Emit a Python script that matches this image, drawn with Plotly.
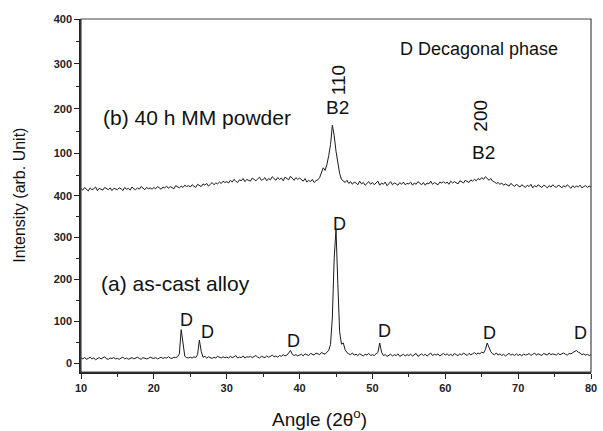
import numpy as np
import plotly.graph_objects as go

# 2-theta grid (degrees), 0.25 deg step from 10 to 80
angle = np.round(np.arange(10, 80.001, 0.25), 2)

# (a) as-cast alloy intensity
as_cast = [
    12,10,13,9,11,14,10,12,8,11,13,10,12,15,10,9,12,11,13,10,
    11,9,12,14,10,12,9,11,13,10,12,14,11,9,13,12,10,11,14,12,
    11,13,10,12,14,11,13,12,15,12,11,14,13,15,22,80,40,16,13,12,
    14,12,15,13,20,55,28,14,16,12,15,13,11,14,12,16,13,12,15,13,
    14,12,16,13,15,18,12,14,13,17,12,15,14,16,13,15,18,14,12,16,
    15,13,17,14,16,19,15,17,14,18,16,20,17,19,24,30,21,18,20,17,
    19,21,17,22,20,18,23,21,19,24,22,20,25,23,21,26,30,45,110,250,
    320,190,75,45,48,32,25,22,20,24,19,21,18,22,20,17,21,19,23,18,
    20,18,22,25,48,26,18,20,16,19,21,17,20,18,22,16,19,21,17,20,
    18,21,17,20,23,16,19,22,18,21,17,20,24,18,21,19,22,17,20,23,
    19,22,18,21,17,23,20,18,22,19,24,21,18,23,20,22,25,21,24,22,
    26,24,32,48,36,27,22,20,24,19,22,18,21,17,20,23,19,21,18,22,
    18,21,17,22,19,20,23,18,21,24,19,22,20,18,23,21,19,24,20,22,
    21,19,23,20,22,24,21,19,23,22,25,27,30,26,24,20,22,19,21,18,
    20,
]

# (b) 40 h MM powder intensity
mm_powder = [
    22,18,24,20,16,23,19,21,25,17,22,20,18,24,21,19,23,17,22,20,
    19,23,21,17,24,20,22,18,25,21,19,23,20,26,22,19,24,21,23,20,
    24,21,26,22,20,25,23,27,22,26,24,21,28,25,23,27,24,29,26,28,
    25,30,27,24,31,28,26,32,29,33,27,31,35,30,34,32,36,33,38,35,
    37,34,40,36,42,38,35,41,39,44,37,42,40,38,45,41,39,43,47,40,
    42,46,39,44,41,48,43,40,46,42,45,39,47,43,41,49,44,40,46,42,
    45,41,38,44,36,40,37,42,35,39,41,46,55,68,62,75,95,120,163,140,
    105,82,55,42,38,35,40,33,37,31,36,34,30,38,32,35,29,34,37,31,
    35,30,33,38,29,34,31,36,28,33,37,30,34,32,29,35,31,36,30,33,
    32,36,29,34,31,37,33,30,35,29,34,32,38,31,35,33,30,36,34,37,
    33,36,31,38,34,37,35,32,39,36,34,40,37,35,41,38,42,39,44,41,
    46,42,48,43,40,44,38,36,33,35,31,34,29,32,30,27,33,29,26,31,
    28,25,30,27,24,29,26,31,23,28,25,30,26,24,29,27,23,28,25,30,
    26,24,29,27,23,28,25,30,26,22,28,24,27,25,29,23,26,28,24,27,
    25,
]

# Peak labels
d_peaks_x = [24.5, 27.3, 39.2, 45.5, 51.6, 66.1, 78.5]
d_peaks_y = [102, 74, 52, 333, 76, 71, 71]

x_ticks = [10, 20, 30, 40, 50, 60, 70, 80]
y_ticks_bottom = [0, 100, 200, 300, 400]
y_ticks_top = [100, 200, 300, 400]

FONT = "Arial, Liberation Sans, sans-serif"
LINE = "#1a1a1a"

fig = go.Figure()
fig.add_trace(go.Scatter(x=angle, y=as_cast, mode="lines", xaxis="x", yaxis="y",
                         line=dict(color=LINE, width=1), showlegend=False))
fig.add_trace(go.Scatter(x=angle, y=mm_powder, mode="lines", xaxis="x2", yaxis="y2",
                         line=dict(color=LINE, width=1), showlegend=False))

tickfont = dict(family=FONT, size=11, color="#222", weight="bold")

fig.update_layout(
    width=603, height=431,
    margin=dict(l=81, r=6, t=19, b=59),
    paper_bgcolor="white", plot_bgcolor="white",
    xaxis=dict(domain=[0, 1], anchor="y", range=[10, 80], tickvals=x_ticks,
               ticks="outside", ticklen=5, tickwidth=1.2, tickcolor="#222",
               minor=dict(dtick=5, tick0=0, ticks="outside", ticklen=3, tickcolor="#222"),
               showline=True, linecolor="#222", linewidth=1.5, showgrid=False,
               zeroline=False, tickfont=tickfont, ticklabeloverflow="allow"),
    yaxis=dict(domain=[0, 0.5], anchor="x", range=[-21.4, 400.5], tickvals=y_ticks_bottom,
               ticks="outside", ticklen=5, tickwidth=1.2, tickcolor="#222",
               minor=dict(dtick=50, tick0=0, ticks="outside", ticklen=3, tickcolor="#222"),
               showline=True, linecolor="#222", linewidth=1.5, showgrid=False,
               zeroline=False, tickfont=tickfont),
    xaxis2=dict(domain=[0, 1], anchor="y2", matches="x", range=[10, 80], visible=False),
    yaxis2=dict(domain=[0.5, 1], anchor="x2", range=[6, 400.5], tickvals=y_ticks_top,
                ticks="outside", ticklen=5, tickwidth=1.2, tickcolor="#222",
                minor=dict(dtick=50, tick0=0, ticks="outside", ticklen=3, tickcolor="#222"),
                showline=True, linecolor="#222", linewidth=1.5, showgrid=False,
                zeroline=False, tickfont=tickfont),
    shapes=[dict(type="rect", xref="paper", yref="paper", x0=0, x1=1, y0=0, y1=1,
                 line=dict(color="#444", width=1.2), layer="above")],
)

txt = dict(family=FONT, color="#111")
ann = [
    dict(text="D Decagonal phase", x=64.6, y=333, xref="x2", yref="y2",
         showarrow=False, font=dict(size=18, **txt)),
    dict(text="(b) 40 h MM powder", x=25.9, y=180, xref="x2", yref="y2",
         showarrow=False, font=dict(size=21, **txt)),
    dict(text="(a) as-cast alloy", x=23.0, y=190, xref="x", yref="y",
         showarrow=False, font=dict(size=21, **txt)),
    dict(text="110", x=45.3, y=264, xref="x2", yref="y2", textangle=-90,
         showarrow=False, font=dict(size=19, **txt)),
    dict(text="B2", x=45.2, y=203, xref="x2", yref="y2",
         showarrow=False, font=dict(size=19, **txt)),
    dict(text="200", x=64.8, y=185, xref="x2", yref="y2", textangle=-90,
         showarrow=False, font=dict(size=19, **txt)),
    dict(text="B2", x=65.3, y=102.5, xref="x2", yref="y2",
         showarrow=False, font=dict(size=19, **txt)),
]
for dx, dy in zip(d_peaks_x, d_peaks_y):
    ann.append(dict(text="D", x=dx, y=dy, xref="x", yref="y",
                    showarrow=False, font=dict(size=18, **txt)))
ann.append(dict(text="Angle (2θ<sup>o</sup>)", xref="paper", yref="paper",
                x=(322 - 81) / 516, y=-(418 - 372) / 353,
                xanchor="center", yanchor="middle",
                showarrow=False, font=dict(size=19, **txt)))
ann.append(dict(text="Intensity (arb. Unit)", xref="paper", yref="paper",
                x=-(81 - 18) / 516, y=(372 - 195) / 353, textangle=-90,
                xanchor="center", yanchor="middle", showarrow=False,
                font=dict(size=16, **txt)))
fig.update_layout(annotations=ann)

fig.write_html("out.html", config={"displayModeBar": False},
               post_script="document.body.style.margin='0px';")
